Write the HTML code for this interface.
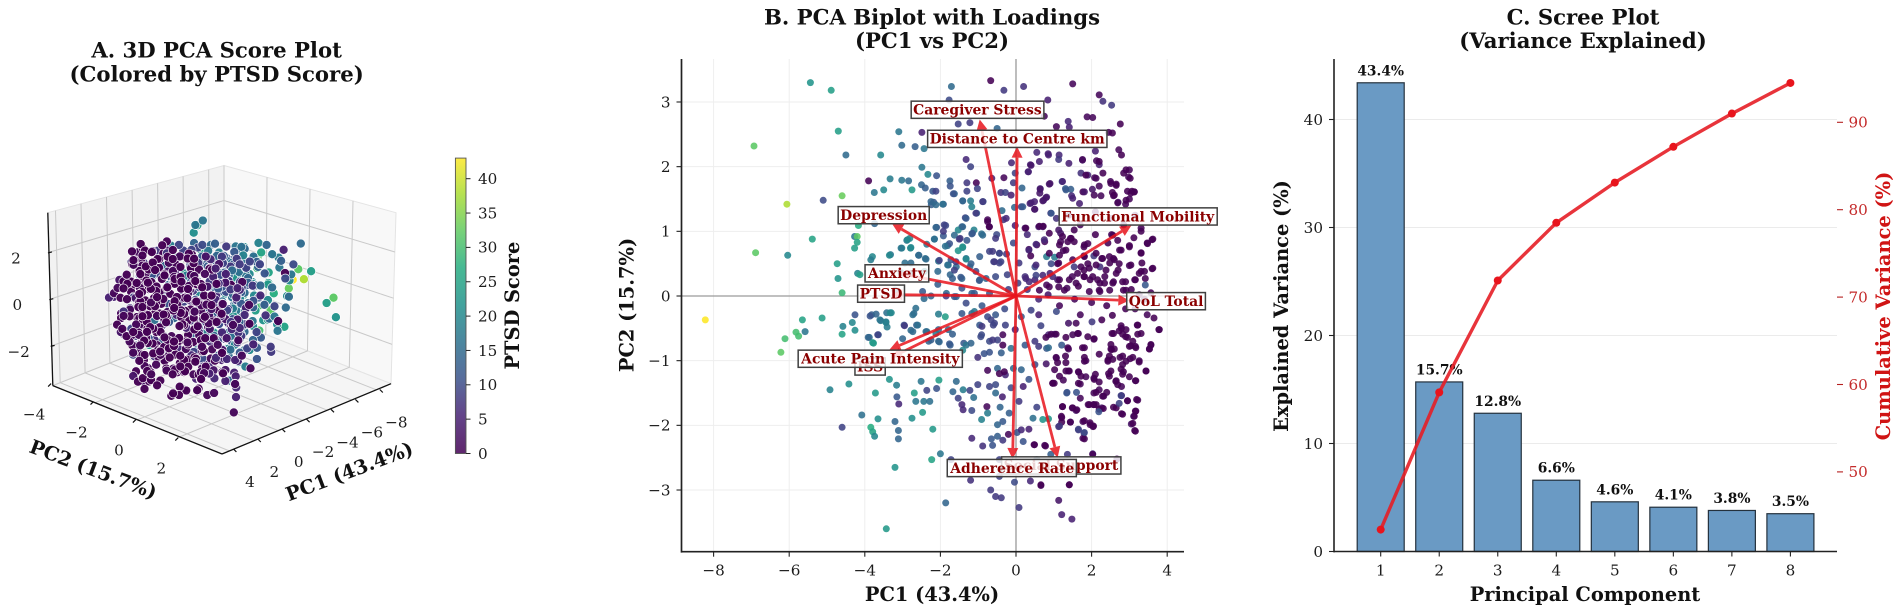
<!DOCTYPE html>
<html lang="en">
<head>
<meta charset="utf-8">
<title>PCA Figure</title>
<style>
html,body{margin:0;padding:0;background:#fff;width:1902px;height:612px;overflow:hidden}
svg{display:block}
text{font-family:"DejaVu Serif","Liberation Serif",serif;fill:#1c1c1c}
.title{font-size:21.2px;font-weight:bold;text-anchor:middle;fill:#111}
.alabel{font-size:19.4px;font-weight:bold;text-anchor:middle;fill:#111}
.tick{font-size:15.2px}
.loading{font-size:13.9px;font-weight:bold;fill:#8b0000;text-anchor:middle}
.val{font-size:13.8px;font-weight:bold;text-anchor:middle;fill:#111}
</style>
</head>
<body>
<svg id="fig" xmlns="http://www.w3.org/2000/svg" width="1902" height="612" viewBox="0 0 1902 612">
  <rect x="0" y="0" width="1902" height="612" fill="#fff"/>
  <defs>
    <linearGradient id="viridisGrad" x1="0" y1="1" x2="0" y2="0"></linearGradient>
  </defs>
  <g id="panelA"></g>
  <g id="panelB"></g>
  <g id="panelC"></g>

  <text class="title" x="216.6" y="57.5">A. 3D PCA Score Plot</text>
  <text class="title" x="216.6" y="81.5">(Colored by PTSD Score)</text>
  <text class="alabel" transform="translate(93,470) rotate(20.7)" y="6">PC2 (15.7%)</text>
  <text class="alabel" transform="translate(349.5,472) rotate(-20.7)" y="6">PC1 (43.4%)</text>
  <text class="alabel" transform="translate(513,305.6) rotate(-90)" y="6">PTSD Score</text>

  <text class="title" x="932" y="24.5">B. PCA Biplot with Loadings</text>
  <text class="title" x="932" y="48">(PC1 vs PC2)</text>
  <text class="alabel" x="932" y="601">PC1 (43.4%)</text>
  <text class="alabel" transform="translate(627.7,305) rotate(-90)" y="6">PC2 (15.7%)</text>

  <text class="title" x="1583" y="24.5">C. Scree Plot</text>
  <text class="title" x="1583" y="48">(Variance Explained)</text>
  <text class="alabel" x="1585" y="601">Principal Component</text>
  <text class="alabel" transform="translate(1282,306) rotate(-90)" y="6">Explained Variance (%)</text>
  <text class="alabel" transform="translate(1884,306) rotate(-90)" y="6" style="fill:#d01414">Cumulative Variance (%)</text>
</svg>

<script>
// ---- Scores ----
const pc1 = [
-5.44,-4.89,-1.71,-.67,-.32,.2,1.5,2.2,2.3,2.53,
.84,-1.77,-6.93,-4.7,-4.5,-3.1,-3.02,-2.67,-2.43,-3.58,
-2.49,-1.53,-1.22,-.5,.75,1.07,1.38,1.41,1.88,2.03,
2.76,2.55,2.45,.55,.85,1.14,1.4,1.76,2.1,2.72,
2.79,1.76,2.13,2.2,.38,-.12,-.02,.33,-1.32,-1.2,
-2.49,-2.33,-2.1,-3.9,-3.33,-3.02,-2.84,-2.5,-2.4,-2.2,
-3.75,-3.5,-2.75,-2.12,-1.75,-1.74,-1.3,-1.05,-1.3,-1.02,
-.64,-.32,-.07,.16,.88,.63,1.22,1.31,1.45,1.77,
1.47,2.02,2.5,2.65,2.55,2.58,2.95,3.07,3.13,3,
2.7,2.9,2.98,2.85,3,2.3,2.08,1.9,1.72,-.4,
-.28,-.13,-5.1,-4.6,-6.06,-4.27,-4.2,-4.2,-4.27,-4.73,
-4.71,-4.19,-4.13,-4.6,-5.39,-6.04,-6.89,-4.17,-3.74,-3.8,
-3.84,-3.32,-2.89,-2.81,-3.02,-2.79,-2.36,-2.16,-2.4,-2.57,
-2.78,-2.94,-3.04,-2.1,-2.18,-2.24,-1.92,-1.63,-1.41,-1.2,
-.87,-1.17,-1.04,-1.34,-1.43,-1.86,-1.92,-1.53,-1.11,-1.48,
-1.41,-1.53,-1.81,-1.17,-.91,-.75,-.7,-.51,-.54,-.33,
-.26,-.02,-.07,.24,.6,.71,.92,1.07,.4,.5,
.14,-.04,-.37,.73,.81,.64,1.18,1.44,1.18,1.13,
1.54,1.8,1.8,2.06,2.43,2.69,2.74,3.12,3.6,3.47,
3.31,3,2.53,3.31,3,3.6,3.31,3.14,3.42,3.42,
3.57,3.26,2.27,2.58,2.48,2.22,1.8,1.54,1.13,.81,
1.02,.34,.55,.76,1.96,2.22,2.58,2.9,2.84,2.48,
2.22,1.8,1.49,.81,1.13,.5,.24,.5,.08,-.44,
-.7,-.59,-.44,-.96,-1.32,-1.22,-1.58,-1.79,-2.05,-1.74,
-1.43,-.96,-.54,-.23,-2.42,-2.78,-3.2,-2.47,-1.84,-1.58,
-1.17,-.7,-8.22,-5.65,-5.13,-4.58,-4.6,-4.33,-4.26,-4.26,
-5.58,-5.82,-5.75,-6.11,-6.22,-3.82,-3.7,-3.58,-3.44,-3.3,
-3.41,-3.64,-3.88,-3.77,-2.96,-2.63,-2.73,-2.7,-2.05,-1.87,
-2.36,-2.05,-1.79,-2.31,-2.05,-1.74,-1.38,-3.35,-3.16,-4.92,
-4.42,-3.72,-3.15,-3.1,-2.69,-2.51,-2.04,-2.36,-2.1,-2.65,
-2.44,-2.28,-2.47,-4.08,-3.65,-3.2,-2.75,-4.6,-3.84,-3.79,
-3.74,-3.11,-3.11,-2.2,-3.2,-2.23,-2,-1.72,-3.43,-1.86,
-1.58,-1.67,-1.4,-1.22,-1.01,-1.53,-1.12,-1.43,-1.4,-1.17,
-.77,-.42,-.75,-.91,-.35,-.49,-.18,-1.17,-.65,-.88,
-.62,-.49,-.35,-.2,.03,-.44,-1.2,-.44,-.04,.38,
.66,1.41,-.67,-.54,-.39,.08,1.13,1.21,1.48,.19,
.14,.34,.48,.76,.55,.92,1.36,2.03,2.67,1.13,
1.44,1.2,1.77,1.65,1.8,1.77,1.96,2.04,3.05,3.14,
3.11,2.79,3.16,2.58,2.95,3.19,2.79,2.32,2.06,1.91,
2.06,2.27,1.7,1.49,1.23,1.59,1.34,.97,1.02,1.39,
1.65,1.7,2.06,2.64,2.79,3.16,3.44,2.84,2.43,2.53,
3.26,3.02,3,3.16,3.53,3.57,3.78,3.65,3.47,3.21,
3.31,2.79,2.9,2.58,2.27,2.01,1.65,2.06,1.39,1.59,
1.7,1.07,.66,.86,1.02,1.39,.81,1.21,1.07,.6,
.24,.5,.5,.14,-.07,-.28,-.49,.34,.19,.08,
.55,.45,.71,.86,-.54,-.36,-.7,-.54,-.13,-1.01,
-.7,-.39,-.13,-.49,-.91,-.7,-.28,-.02,.4,.6,
.14,-.54,-.96,-1.43,-1.17,2.1,1.9,2.35,2.7,3.05,
2.9,2.4,2,1.55,1.15,.85,1.35,2.55,3.15,3.4,
2.2,1.85,1.5,2.75,3,2.45,2.2,1.85,1.25,.8,
2.1,2.5,2.85,1.7,1.4,3.15,2.25,1.1,.6,.3,
-.2,-.3,-.9,-.6,-.25,.05,.3,.9,1.65,1.25,
.26,.62,.88,.72,1.23,1.46,1.54,1.81,1.9,1.15,
1.37,1.32,.88,.53,.34,.39,.75,1.1,.93,.53,
1.15,1.5,1.81,2.12,2.29,2.47,2.6,2.73,2.38,2.65,
3.04,3.31,3.33,3.62,3.4,3.26,3.16,3,2.78,2.56,
3.48,3.62,3.31,2.12,1.94,1.72,1.63,1.81,2.03,2.16,
2.34,2.56,2.82,2.91,2.2,1.94,1.59,1.41,1.15,.97,
.71,.53,.26,.62,.88,1.28,.35,1.32,1.23,1.5,
1.68,1.81,2.07,2.2,2.12,1.85,2.51,2.65,2.6,2.69,
2.91,3.04,3.13,2.91,3.02,2.2,1.13,.86,.62,.4,
.32,.64,.9,.79,.71,.49,.49,.37,.18,.93,
2.78,2.91,2.73,2.82,2.95,3.09,3.04,3.17,3.22,3.57,
3.53,3.79,3.22,2.51,2.51,2.6,2.47,2.56,2.43,2.82,
2.91,2.82,2.78,2.82,3.09,3.26,3.44,3.17,2.51,2.47,
2.65,2.69,2.1,2.07,2.2,1.66,1.72,1.65,1.32,1.41,
1.15,.97,1.01,1.06,1.1,1.31,1.32,1.81,1.76,1.81,
1.81,1.32,1.37,.93,.79,1.06,1.63,1.9,2.07,2.54,
2.12,2.29,2.4,2.12,1.94,2.05,2.2,2.31,2.65,2.95,
3.22,3.17,3.13,3.09,3.16,2.82,1.5,1.61,1.23,1.21,
1.21,1.44,1.81,1.96,2.05,1.81,1.65,1.81,1.15,.49,
.78,2.03,1.41,.66,1.35,1.6,2.78,2.73,2.19,.86,
-2.25,-2.12,-1.94,-1.66,-1.41,-.75,-.71,-1.06,-.88,-1.32,
-1.41,-1.9,-2.12,-1.92,-1.15,-.88,-1.63,-1.5,-1.76,-1.87,
-1.41,-1.3,-2.16,-2.87,-2.78,-3.04,-3.35,-2.58,-2.38,-2.03,
-1.72,-1.59,-1.81,-1.32,-1.19,-1.63,-.62,-.44,-.4,-.57,
-1.06,-2.07,-1.68,-1.46,-.97,-.79,-2.07,-1.43,-1.1,-1.85,
-1.63,-2.43,-2.25,-1.32,-1.1,-2.65,-2.73,-3.42,-3.33,-3.86,
-3.6,-3.44,-2.95,-2.6,-2.78,-2.38,-2.12,-1.68,-3,-3.66,
-3.91,-3.79,-1.76,-2.03,-2.25,-.9,-.75,-.66,-.57,-.93,
-.62,-1.32,-1.41,-1.19,-.84,-.35,-.35,-.44,-.75,-.31
];
const pc2 = [
3.3,3.18,3.24,3.33,3.18,3.24,3.28,3.11,3.01,2.95,
3.03,3.03,2.32,2.55,2.18,2.54,2.33,2.31,2.28,2.18,
2.53,2.66,2.68,2.59,2.78,2.62,2.7,2.61,2.77,2.76,
2.66,2.52,2.53,2.22,2.2,2.18,2.05,2.1,2.24,2.26,
2.18,2.11,2.09,2.03,2.03,2.06,1.9,1.92,2.11,2,
1.99,1.88,1.86,1.78,1.81,1.79,1.78,1.72,1.67,1.62,
1.6,1.64,1.64,1.62,1.78,1.7,1.75,1.75,1.62,1.66,
1.82,1.83,1.75,1.67,1.73,1.59,1.77,1.66,1.65,1.61,
1.55,1.65,1.77,1.73,1.6,1.55,1.62,1.62,1.61,1.5,
1.45,1.42,1.84,1.9,1.95,1.9,1.83,1.87,1.9,1.6,
1.6,1.56,1.48,1.55,1.42,.92,.92,.83,.74,.5,
.27,.35,.33,.05,.88,.63,.67,1.09,1.12,.61,
.56,.64,.86,.89,.74,.74,.8,.88,.58,.63,
.51,.51,.36,1.06,1.45,1.41,1.42,1.58,1.47,1.47,
1.46,1.38,1.28,1.21,1.07,1.09,.93,1.02,1.02,.89,
.75,.7,.78,.96,.96,1.18,1.07,.95,.89,1.18,
1.2,1.09,.82,1.05,1.07,1.07,1.28,1.2,1.44,1.34,
1.38,1.37,1.32,1.48,1.53,1.66,.97,.89,.84,1.02,
.84,.76,.62,.62,.82,.86,.71,.9,.87,.82,
1,.78,.95,.66,.47,.42,.38,.25,.27,.17,
.05,.02,.58,.58,.51,.45,.4,.45,.51,.61,
.6,.72,.79,.84,.25,.2,.22,.22,.09,.09,
.07,.3,.3,.17,.14,.25,.3,.45,.51,.66,
.69,.53,.51,.61,.58,.45,.45,.48,.54,.33,
.27,.25,.3,.33,.38,.35,.09,.07,.04,-.01,
.04,.04,-.37,-.37,-.34,-.47,-.59,-.41,-.53,-.29,
-.55,-.56,-.62,-.66,-.87,-.29,-.28,-.38,-.41,-.26,
-.48,-.6,-.64,-.73,-.45,-.45,-.55,-.27,-.28,-.32,
-.55,-.52,-.52,-.7,-.7,-.76,-.73,-1.29,-1.38,-1.45,
-1.36,-1.5,-1.56,-1.67,-1.5,-1.32,-1.3,-1.46,-1.43,-1.63,
-1.63,-1.63,-1.8,-1.84,-1.9,-1.94,-1.89,-2.03,-2.03,-2.1,
-2.17,-2.08,-2.21,-2.06,-2.65,-2.53,-2.44,-2.53,-3.6,-3.2,
-1.32,-1.48,-1.45,-1.46,-1.37,-1.58,-1.57,-1.68,-1.76,-1.77,
-1.71,-1.72,-1.81,-1.91,-1.94,-1.99,-1.81,-2.2,-2.21,-2.32,
-2.31,-2.17,-2.23,-2.14,-2.11,-2.53,-2.85,-2.79,-2.88,-2.86,
-2.93,-2.92,-3,-3.1,-3.12,-3.27,-3.16,-3.38,-3.45,-2.25,
-2.07,-2.06,-2.3,-2.31,-2.53,-2.45,-2.45,-2.44,-2.52,-2.02,
-1.95,-1.86,-1.94,-2.07,-2.12,-2.2,-1.99,-2.02,-1.98,-2.08,
-1.86,-1.82,-1.78,-1.72,-1.62,-1.6,-1.54,-1.55,-1.5,-1.68,
-1.68,-1.73,-1.58,-1.73,-1.71,-1.77,-1.5,-1.35,-1.14,-1.16,
-1.17,-1.36,-1.27,-1.32,-1.4,-1.31,-1.16,-1.17,-.99,-.83,
-1,-.97,-.78,-.78,-.82,-.76,-.52,-.34,-.29,-.45,
-.58,-.5,-.63,-.58,-.37,-.4,-.58,-.67,-.42,-.42,
-.29,-.24,-.46,-.6,-.59,-.82,-.81,-.76,-.96,-.78,
-.76,-.7,-1.06,-1.14,-1.12,-1.22,-1.12,-1.29,-1.4,-1.63,
-1.72,-1.89,-1.91,-1.9,-1.5,-1.56,-1.4,-1.37,-1.42,-.95,
-.87,-.88,-.81,-.68,-.6,-.7,-.45,-.52,-.22,-.29,
-.32,-.29,-.45,-.27,-.27,.95,.5,.3,.4,.1,
-.2,-.15,-.1,-.05,-.15,.02,.12,-.3,-.2,-.05,
-.9,-1,-.6,-.95,-1.25,-1.2,-1.45,-1.25,-1.3,-1.05,
1.3,1.2,1.1,1.1,1.25,1.25,1.55,.25,-.05,.1,
.1,-.2,-.15,-.45,.65,.2,.95,.35,.15,.7,
1.05,1.08,.97,1.08,.92,.89,1.02,.79,.81,.79,
.84,.71,.66,.8,.71,.62,.87,.5,.5,.48,
.63,.56,.61,.66,.58,.61,.56,.5,.4,.35,
.48,.67,.51,.43,.38,.35,.25,.76,.71,.94,
.81,.88,1.05,.48,.43,.45,.35,.3,.3,.25,
.2,.2,.22,.09,.09,.07,.2,.25,.25,.3,
.32,.32,.27,.09,.14,.09,.22,1.64,1.77,1.51,
1.43,1.61,1.56,1.7,1.82,1.87,1.74,1.71,1.56,1.44,
1.48,1.59,1.61,1.95,1.82,2.08,2.11,2.18,2.08,2.02,
1.92,1.65,1.74,1.52,1.47,1.46,1.34,1.43,1.38,1.28,
-.46,-.52,-.54,-.59,-.64,-.7,-.77,-.8,-.59,-.75,
-.82,-.52,-.45,-.75,-.82,-.82,-.93,-.98,-1.01,-.93,
-1.01,-1.06,-1.13,-1.21,-.95,-1.02,-1.16,-1.31,-1.16,-1.24,
-1.31,-1.37,-1.21,-1.29,-1.33,-1.18,-1.24,-1.35,-1.16,-1.16,
-1.24,-1.35,-1.35,-.95,-1.03,-.93,-1.03,-.8,-.8,-.95,
-1.01,-.64,-.8,-.59,-.64,-.59,-.58,-.63,-.66,-.58,
-1.49,-1.55,-1.49,-1.68,-1.68,-1.68,-1.75,-1.74,-1.73,-1.62,
-1.61,-1.78,-1.86,-1.97,-2.09,-1.83,-1.73,-1.76,-1.71,-1.88,
-1.95,-1.95,-1.93,-1.96,-2.01,-2.21,-2.06,-2.11,-2.01,-2.3,
-2.32,-2.45,-2.92,-2.92,-1.49,-1.49,-1.54,-1.66,-1.79,-.8,
1.46,1.41,1.42,1.58,1.47,1.15,1.07,1.28,1.46,1.2,
1.07,1.1,1.06,1,.97,.94,.94,.88,.81,.77,
.76,.86,.88,.87,.75,.74,.63,.63,.57,.55,
.56,.53,.48,.57,.5,.4,.69,.66,.53,.53,
.38,.38,.27,.29,.24,.27,.18,.12,.04,0,
-.01,-.04,0,-.11,-.24,-.19,-.29,-.26,-.26,-.31,
-.37,-.4,-.46,-.45,-.53,-.55,-.58,-.59,-.66,-.6,
-.64,-.72,-.74,-.71,-.68,-.47,-.32,-.37,-.42,-.63,
-.68,-.76,-.84,-.73,-.89,-.6,-.76,-1.2,-1.15,-1.17
];
const pc3 = [
-.27,.42,1.4,.6,-.5,1,-1,.3,-1.6,1.1,
-.2,2.1,-.12,1.6,2.7,1.8,.3,2.4,-.6,1.3,
3,.8,-1.1,1.9,1.4,-.8,.5,2.2,-1.8,.8,
-.3,1.3,-1.3,1.8,-1.9,.2,2.6,-.6,1,-2.2,
1.6,1.4,-.3,3,-1.4,.5,1.9,-2.6,1.1,-.5,
2.6,.6,1.8,1.4,2.2,-.3,1,2.9,.3,-1.1,
1.6,-.8,1.1,2.1,.8,-1.9,1.4,-.2,2.4,-1.3,
.6,1.8,-.8,1.3,-1.8,.3,1.9,-1.1,.8,2.7,
-2.1,.2,1.4,-.6,2.1,-1.6,.5,1.6,-1,1.1,
-2.4,2.6,-.3,1,-1.4,1.8,.6,-1,2.2,-.5,
1.1,-2.2,1.4,.5,.53,1.8,-.6,1,-1.1,.3,
-1.4,2.1,-.3,1.1,-1.6,-.5,.5,.2,-.8,1.4,
-1.8,.5,1.9,-1,.8,-2.1,1.3,-.2,2.4,-1.3,
.3,1.6,-.6,1,-1.6,2.1,.2,-1.1,1.4,-2.2,
.6,2.6,-.3,1.1,-1.8,1.8,-.8,.5,-1.4,2.2,
0,1.3,-2.4,.8,-1,-4.2,-.5,1,-1.9,1.6,
-.2,1.4,-1.1,2.4,.3,-2.1,1.1,-.6,1.8,-1.6,
.5,-2.6,2.1,-.3,1,-1.4,2.9,.6,-1.1,1.6,
-2.2,.3,2.1,-.8,1.3,-1.8,.8,2.4,-.5,1.4,
-1.4,.2,1.9,-2.7,1,-.3,1.8,-1.9,.6,-1,
1.3,-2.4,.5,2.6,-1.3,1.1,-3,0,1.6,-.6,
.8,-1.8,2.2,-.3,1.4,-2.1,3.2,-1,.3,-3.2,
1.9,-.2,1.1,-2.6,2.7,-.8,.6,-1.9,1.4,-.5,
2.1,-1.4,.3,1.6,-1.1,.8,-2.2,1.8,-.3,1,
-1.3,2.2,0,-2.4,1.1,-.8,1.9,-1.9,.5,-1,
2.6,-.2,-.64,1.1,-1.3,.5,-.6,1.6,-1.9,.8,
-1,-2.4,.3,-1.4,.6,1.3,-.5,1.8,-1.6,.3,
-1,1.1,-2.1,0,1.4,-1.1,.6,-2.4,1.9,-.3,
1,-1.8,2.2,.2,-1.3,1.3,-2.2,.5,-1.4,.2,
-.8,-2.4,.8,-1.1,1.4,2.8,2.7,1.6,-.6,-2.9,
2.5,-1.4,-.2,-1.3,.6,-2.1,2,-.3,-1.6,.5,
-1,1.4,-2.6,.3,-.6,-1.8,.8,-1.1,-1.4,-3,
1.1,-1.9,.6,-.5,1.8,-2.7,.2,1.4,-1,.8,
-2.2,.3,1.9,-.8,-3,1,-1.3,-.3,1.3,-1.8,
.5,-2.4,1.6,-.6,1.1,-1.4,-3.4,.2,-1.9,1,
-1,-1,.5,-1.6,-.2,-1.2,.3,-.5,-.5,.8,
-2.1,1.8,-.5,-3,.6,-1.1,1.4,-.6,.3,-1.6,
1.1,-.6,2.1,-1.6,.6,-1.6,.2,1.6,-1.1,.8,
-1.1,1,-.3,2.4,-1.4,.5,-2.9,1,-.8,1.9,
-2.1,.3,1.3,-1.4,.6,-3.5,1.1,-.5,2.2,-1.9,
.2,1.6,-2.6,1,-.6,2.1,-1.6,.5,-3,1.4,
-.8,2.6,-.2,-2.1,1.1,-1.1,.3,1.8,-2.2,.8,
-.5,2.1,-2.7,.6,-1.3,2.7,0,-1.8,1.3,-1,
1.9,-2.4,.5,-.3,1.6,-1.9,1,-.6,2.4,-2.9,
.2,-1.4,1.3,-.8,1.8,-2.2,.6,-.2,1.9,-1.8,
1,-1.1,.3,-2.1,1.4,-.6,2.1,-2.6,.8,-.3,
1.4,-1.8,.5,2.2,-1.1,1,-2.1,.2,1.8,-.8,
1.1,-1.6,1.9,-.5,.6,3,-1.6,.8,-1.9,2.2,
-1.3,1.4,-2.2,2.6,-.3,1,-1.4,3.2,.3,-2.6,
.6,-2.4,2.1,-1,1.3,-3.4,1.8,.8,-1.8,1.4,
1.1,-1.1,1.9,-1.8,.5,-.3,2.6,1.4,-1.9,2.1,
-1.4,.8,1.6,-2.6,.3,-.6,1,-2.7,1.3,-.6,
.4,-1.7,2.3,-.7,1.2,-2.4,.9,-.2,2.7,-1.3,
1.7,-2.9,.2,-1,2.5,.7,-1.9,1.5,-.4,-2.2,
2.2,-.9,.6,2.9,-1.5,.1,-2.6,1.3,-.6,2,
-2,.9,-1.2,2.4,.3,-.5,1.7,-2.8,.7,-1.6,
1.1,-.3,2.3,-2.1,.5,-1,1.4,-3,.2,1.9,
-1.4,2.8,-.7,.4,1.6,-2.3,.9,-.1,2.1,-1.8,
.6,-2.5,1.2,-.4,2.6,-1.1,.3,1.8,-.8,2.3,
-1.9,1,-2.7,.5,-.6,2.2,-1.3,.8,-.2,-2.4,
1.5,-.9,2.5,.1,-1.7,.7,1.9,-1.2,-2.9,.4,
1.3,-.5,2,-2,.9,-1.5,.2,-2.5,1.6,-.7,
1.2,-1.5,.5,2.4,-.4,-2.3,1.6,-1,.2,2,
-1.8,.7,1.4,-.6,2.7,-2.5,.3,-1.3,1,2.1,
-.2,-2.8,.9,1.8,-1.2,.4,-.7,2.3,-1.9,1.1,
.1,-3.1,1.7,-.9,2.5,-.3,-1.6,.8,2,-2.2,
.5,-1.1,1.5,2.8,-2.4,-.5,1.2,-1.7,.3,2.2,
-1,.7,-2.6,1.9,-.1,-1.4,2.4,.6,-.8,1.3,
-2.1,.2,1.6,-1.2,2.6,-.6,-2.9,.9,1.1,-.3,
-1.1,.9,-.9,.4,-.8,1.4,-.2,2.3,-1.3,.6,
-2.7,1,-.7,1.8,-1.9,.3,-1.1,-2.4,1.5,-.4,
-2,.7,-1.2,.2,1.2,-1.5,.5,-.9,-1.8,1.7,
1.9,1.1,2.4,.6,1.6,-.4,1.3,2.2,-.8,.9,
-1.2,1.8,.2,-.7,2.6,-1.6,1,.4,-1.1,1.5,
-.3,2,-1.9,.8,1.2,-.9,.1,2.3,-1.4,.6,
-.6,1.7,.3,-1.8,1,-.2,2.4,-1.2,.7,-2.1,
1.4,-.8,.5,2.1,-1.5,.2,1.1,-.5,1.9,-1.7,
.4,-1,1.6,-.3,2.2,-1.3,.8,-.6,1.2,-1.5,
.3,-1.2,1.9,-.4,-1.8,.9,-.7,1.5,-1.1,.5,
-.9,.2,1.3,-1.9,.6,-.2,2.5,-1.6,.9,-2.3,
.4,-1.1,1.4,-.5,-2.4,.7,-1.5,-2.9,.1,-1.9
];
const ptsd = [
22,24,15,0,8,7,1,1,7,8,
5,10,32,24,15,17,15,13,17,20,
5,9,8,14,1,1,6,5,1,1,
0,0,0,6,5,6,5,3,5,1,
0,1,1,5,5,6,9,6,6,9,
17,20,11,0,18,17,15,14,13,12,
17,20,23,9,13,11,8,0,9,9,
5,1,8,14,3,3,12,13,13,0,
6,3,1,0,0,1,0,0,0,1,
5,1,1,0,1,0,1,6,7,7,
9,5,10,33,38,17,32,25,24,24,
22,19,24,29,25,20,32,27,14,20,
18,17,17,20,20,20,17,15,16,14,
15,16,17,11,12,13,13,14,13,18,
12,19,13,9,12,10,12,20,19,8,
18,22,16,12,16,1,1,10,8,8,
6,5,10,3,5,3,6,7,5,5,
9,14,15,6,5,6,3,1,1,3,
0,0,1,8,0,0,1,0,0,0,
0,0,1,0,1,0,0,1,0,12,
0,0,0,0,0,7,0,8,1,18,
18,1,1,1,0,0,0,0,0,0,
1,0,1,1,0,5,7,10,8,10,
9,9,9,13,16,15,15,16,17,14,
14,14,10,9,19,18,16,12,15,14,
13,12,43,25,24,19,25,20,21,11,
17,30,30,30,32,13,14,17,21,20,
18,13,15,24,11,13,15,15,18,24,
16,14,15,14,14,13,12,22,18,19,
21,23,12,6,24,17,24,9,11,17,
17,16,23,16,21,14,21,9,27,25,
20,14,14,23,22,25,17,9,23,14,
15,14,18,9,9,9,16,6,6,10,
1,14,18,19,12,14,13,6,12,7,
11,13,8,1,11,9,7,9,10,6,
1,1,8,8,8,8,3,5,5,11,
6,5,1,1,14,13,8,7,1,7,
5,0,1,8,8,1,1,0,3,1,
5,0,1,0,1,0,3,1,1,1,
1,3,1,1,1,3,12,0,0,1,
1,1,1,1,1,1,1,0,0,0,
1,0,0,1,0,1,0,0,1,1,
0,0,0,0,0,8,1,1,3,1,
1,10,9,5,5,1,12,12,3,8,
12,8,10,14,15,6,14,11,5,8,
9,16,22,22,15,5,9,10,10,7,
11,13,16,9,10,10,9,5,9,5,
12,12,12,12,14,0,0,0,0,0,
0,0,1,1,1,3,1,0,1,0,
0,1,1,0,0,0,1,1,1,3,
1,0,0,1,3,1,1,3,6,8,
9,10,12,9,8,9,6,5,0,1,
0,0,0,0,0,0,0,0,0,0,
0,0,0,6,6,0,6,0,10,6,
0,0,0,0,0,0,0,0,0,0,
0,0,0,0,0,0,0,0,0,0,
0,0,0,0,0,0,0,0,0,0,
0,0,0,0,0,0,0,0,0,6,
6,9,6,0,0,0,6,12,5,5,
5,3,1,1,1,0,0,0,0,0,
0,0,0,0,0,0,8,5,5,3,
5,3,3,3,3,5,3,5,12,12,
0,0,0,0,0,0,0,0,0,0,
0,0,0,0,0,0,0,0,0,0,
0,0,0,0,0,0,0,0,0,0,
0,0,0,0,0,0,0,0,0,0,
0,0,0,0,0,0,0,0,0,0,
0,0,0,0,0,0,0,0,0,0,
0,0,0,0,0,0,0,0,0,0,
0,0,0,0,0,0,0,0,0,0,
0,0,0,0,0,0,9,10,8,0,
0,0,0,0,11,11,9,9,11,15,
14,15,16,11,14,0,0,8,8,12,
14,9,14,8,12,15,15,8,11,16,
22,12,16,20,20,17,20,15,15,9,
11,8,16,20,13,9,8,9,9,8,
10,15,13,12,12,14,13,11,12,8,
12,15,14,10,17,16,16,16,20,11,
17,18,8,16,15,15,17,13,14,9,
14,23,12,14,13,8,10,9,9,10,
8,17,20,14,11,1,0,0,1,0
];

// ---- Loadings (biplot arrows, data units) ----
const loadingNames = ["Caregiver Stress","Distance to Centre km","Depression","Functional Mobility","Anxiety","PTSD","QoL Total","ISS","Acute Pain Intensity","Social Support","Adherence Rate"];
const loadingPc1 = [-0.96,0.03,-3.28,3.05,-3.1,-3.3,3.0,-3.3,-3.35,1.1,-0.09];
const loadingPc2 = [2.73,2.31,1.12,1.09,0.35,0.02,-0.07,-0.95,-0.83,-2.5,-2.52];
const loadingLabelPc1 = [-1.02,0.03,-3.5,3.22,-3.15,-3.57,3.97,-3.86,-3.59,1.19,-0.1];
const loadingLabelPc2 = [2.88,2.43,1.25,1.23,0.35,0.036,-0.08,-1.09,-0.97,-2.62,-2.66];

// ---- Scree ----
const components = [1,2,3,4,5,6,7,8];
const explained = [43.4,15.7,12.8,6.6,4.6,4.1,3.8,3.5];
const cumulative = [43.4,59.1,71.9,78.5,83.1,87.2,91.0,94.5];
const explainedLabels = ["43.4%","15.7%","12.8%","6.6%","4.6%","4.1%","3.8%","3.5%"];

// ---- Ticks ----
const biplotXTicks = [-8,-6,-4,-2,0,2,4];
const biplotYTicks = [-3,-2,-1,0,1,2,3];
const screeLeftTicks = [0,10,20,30,40];
const screeRightTicks = [50,60,70,80,90];
const colorbarTicks = [0,5,10,15,20,25,30,35,40];
const pc1Ticks3d = [4,2,0,-2,-4,-6,-8];
const pc2Ticks3d = [-4,-2,0,2];
const pc3Ticks3d = [-2,0,2];

const NS = "http://www.w3.org/2000/svg";
const fmt = v => String(v).replace("-", "\u2212");
function mk(parent, tag, attrs, txt){
  const e = document.createElementNS(NS, tag);
  for (const k in attrs) e.setAttribute(k, attrs[k]);
  if (txt !== undefined) e.textContent = txt;
  parent.appendChild(e);
  return e;
}
const VIR = [[0,68,1,84],[.13,72,36,117],[.25,59,82,139],[.38,44,114,142],[.5,33,145,140],[.63,39,173,129],[.75,94,201,98],[.88,170,220,50],[1,253,231,37]];
function viridis(t){
  t = Math.max(0, Math.min(1, t));
  for (let i = 1; i < VIR.length; i++) {
    if (t <= VIR[i][0]) {
      const a = VIR[i-1], b = VIR[i], f = (t-a[0])/(b[0]-a[0]);
      return "rgb(" + [1,2,3].map(j => Math.round(a[j]+(b[j]-a[j])*f)).join(",") + ")";
    }
  }
  return "rgb(253,231,37)";
}
const PTSD_MAX = 43;
const lerp = (a,b,t) => [a[0]+(b[0]-a[0])*t, a[1]+(b[1]-a[1])*t];

// ===== Panel A =====
(function(){
  const g = document.getElementById("panelA");
  const TL=[47.8,212.7], BT=[224,165.5], TR=[396,212.7], BL=[52.8,385.6], BB=[224,318], BR=[391,383.7], F=[222,454];
  const poly = pts => pts.map(p => p[0].toFixed(1)+","+p[1].toFixed(1)).join(" ");
  let e;
  e = mk(g,"polygon",{points:poly([TL,BT,BB,BL]),fill:"#f2f2f2",stroke:"#e4e4e4","stroke-width":1});
  
  
  e = mk(g,"polygon",{points:poly([BT,TR,BR,BB]),fill:"#f8f8f8",stroke:"#e4e4e4","stroke-width":1});
  
  
  e = mk(g,"polygon",{points:poly([BL,BB,BR,F]),fill:"#f5f5f5",stroke:"#e4e4e4","stroke-width":1});
  
  

  const gridStyle = {stroke:"#c9c9c9","stroke-width":1,fill:"none"};
  const pc1T = v => (4.6 - v)/13.8;
  const pc2T = v => (v + 4)/8;
  const pc3S = v => (v + 3.7)/7.4;
  pc1Ticks3d.forEach(v => {
    const t = pc1T(v);
    const p = [lerp(TL,BT,t), lerp(BL,BB,t), lerp(F,BR,t)];
    const l = mk(g,"polyline",Object.assign({points:poly(p)},gridStyle));
    
    
    const tk = [233.4+(4-v)*12.2, 448.9-(4-v)*4.95];
    const m = mk(g,"line",{x1:tk[0],y1:tk[1],x2:tk[0]+3,y2:tk[1]+3,stroke:"#111","stroke-width":1.2});
    
    
    const lb = mk(g,"text",{class:"tick",x:tk[0]+16.5,y:tk[1]+38,"text-anchor":"middle"},fmt(v));
    
    
  });
  pc2Ticks3d.forEach(v => {
    const t = pc2T(v);
    const p = [lerp(TR,BT,1-t), lerp(BR,BB,1-t), lerp(F,BL,1-t)];
    const l = mk(g,"polyline",Object.assign({points:poly(p)},gridStyle));
    
    
    const tk = [135.9+v*21.2, 419.6+v*9];
    const m = mk(g,"line",{x1:tk[0],y1:tk[1],x2:tk[0]-3,y2:tk[1]+3,stroke:"#111","stroke-width":1.2});
    
    
    const lb = mk(g,"text",{class:"tick",x:tk[0]-17,y:tk[1]+36,"text-anchor":"middle"},fmt(v));
    
    
  });
  pc3Ticks3d.forEach(v => {
    const s = pc3S(v);
    const a = lerp(BL,TL,s), b = lerp(BB,BT,s), c = lerp(BR,TR,s);
    const l = mk(g,"polyline",Object.assign({points:poly([a,b,c])},gridStyle));
    
    
    const m = mk(g,"line",{x1:a[0]-1,y1:a[1]+.5,x2:a[0]+3,y2:a[1]-.5,stroke:"#111","stroke-width":1.2});
    
    
    const lb = mk(g,"text",{class:"tick",x:a[0]-33,y:a[1]+11,"text-anchor":"middle"},fmt(v));
    
    
  });
  [[TL,BL,'pc3-axis-line'],[BL,F,'pc2-axis-line'],[F,BR,'pc1-axis-line']].forEach(s => {
    const l = mk(g,"line",{x1:s[0][0],y1:s[0][1],x2:s[1][0],y2:s[1][1],stroke:"#111","stroke-width":1.3});
    
    
  });

  // affine view of the 3D axes
  const sx3 = (a,b) => 199.8 - 12.25*a + 21.05*b;
  const sy3 = (a,b,c) => 394.2 + 4.96*a + 8.78*b - 23.03*(c+3.7);
  const depth = i => pc1[i] + .5*pc2[i] - .12*ptsd[i];
  const order = pc1.map((_,i) => i).sort((i,j) => depth(i) - depth(j));
  order.forEach(i => {
    const d = mk(g,"circle",{cx:sx3(pc1[i],pc2[i]).toFixed(1),cy:sy3(pc1[i],pc2[i],pc3[i]).toFixed(1),r:4.5,fill:viridis(ptsd[i]/PTSD_MAX),stroke:"#fff","stroke-width":.65,"fill-opacity":.97});
    
    
  });

  // colorbar
  const grad = document.getElementById("viridisGrad");
  VIR.forEach(s => mk(grad,"stop",{offset:s[0],"stop-color":"rgb("+s[1]+","+s[2]+","+s[3]+")"}));
  const cbY = v => 453.5 - 6.87*v;
  const bar = mk(g,"rect",{x:455.4,y:cbY(PTSD_MAX),width:10.6,height:6.87*PTSD_MAX,fill:"url(#viridisGrad)","fill-opacity":.85,stroke:"#555","stroke-width":.9});
  
  
  colorbarTicks.forEach(v => {
    const m = mk(g,"line",{x1:466,y1:cbY(v),x2:470.5,y2:cbY(v),stroke:"#222","stroke-width":1});
    
    
    const t = mk(g,"text",{class:"tick",x:478,y:cbY(v)+5.3},String(v));
    
    
  });
})();

// ===== Panel B =====
(function(){
  const g = document.getElementById("panelB");
  const L=681.5,R=1184,T=59,B=551.7;
  const x = v => 1016 + 37.8*v;
  const y = v => 296 - 64.67*v;
  biplotXTicks.forEach(v => {
    const l = mk(g,"line",{x1:x(v),y1:T,x2:x(v),y2:B,stroke:"#eeeeee","stroke-width":1});
    
    
  });
  biplotYTicks.forEach(v => {
    const l = mk(g,"line",{x1:L,y1:y(v),x2:R,y2:y(v),stroke:"#eeeeee","stroke-width":1});
    
    
  });
  let z = mk(g,"line",{x1:x(0),y1:T,x2:x(0),y2:B,stroke:"#9a9a9a","stroke-width":1.3});
  
  
  z = mk(g,"line",{x1:L,y1:y(0),x2:R,y2:y(0),stroke:"#9a9a9a","stroke-width":1.3});
  
  

  pc1.forEach((v,i) => {
    const d = mk(g,"circle",{cx:x(v).toFixed(1),cy:y(pc2[i]).toFixed(1),r:3.5,fill:viridis(ptsd[i]/PTSD_MAX),"fill-opacity":.88});
    
    
  });

  // arrows
  loadingNames.forEach((n,i) => {
    const tx = x(loadingPc1[i]), ty = y(loadingPc2[i]), ox = x(0), oy = y(0);
    const len = Math.hypot(tx-ox,ty-oy), ux=(tx-ox)/len, uy=(ty-oy)/len;
    const hl = 11, hw = 5.5, bx = tx-ux*hl, by = ty-uy*hl;
    const a = mk(g,"line",{x1:ox,y1:oy,x2:bx,y2:by,stroke:"#e8141c","stroke-width":2.8,"stroke-opacity":.85});
    
    
    const h = mk(g,"polygon",{points:[tx,ty,bx-uy*hw,by+ux*hw,bx+uy*hw,by-ux*hw].map(q=>q.toFixed(1)).join(","),fill:"#e8141c","fill-opacity":.85});
    
    
  });
  // labels
  loadingNames.forEach((n,i) => {
    const cx = x(loadingLabelPc1[i]), cy = y(loadingLabelPc2[i]);
    const box = mk(g,"rect",{fill:"#fff","fill-opacity":.82,stroke:"#404040","stroke-width":1.5});
    
    
    const t = mk(g,"text",{class:"loading",x:cx,y:cy+4.8},n);
    
    
    const b = t.getBBox();
    box.setAttribute("x",b.x-2);
    box.setAttribute("y",cy-8.6);
    box.setAttribute("width",b.width+4);
    box.setAttribute("height",17.2);
  });

  let s = mk(g,"line",{x1:L,y1:T,x2:L,y2:B+.9,stroke:"#222","stroke-width":1.7});
  
  
  s = mk(g,"line",{x1:L,y1:B,x2:R,y2:B,stroke:"#222","stroke-width":1.7});
  
  

  biplotXTicks.forEach(v => {
    const m = mk(g,"line",{x1:x(v),y1:B,x2:x(v),y2:B+5,stroke:"#222","stroke-width":1.1});
    
    
    const t = mk(g,"text",{class:"tick",x:x(v),y:B+24,"text-anchor":"middle"},fmt(v));
    
    
  });
  biplotYTicks.forEach(v => {
    const m = mk(g,"line",{x1:L-5,y1:y(v),x2:L,y2:y(v),stroke:"#222","stroke-width":1.1});
    
    
    const t = mk(g,"text",{class:"tick",x:L-11,y:y(v)+5.3,"text-anchor":"end"},fmt(v));
    
    
  });
})();

// ===== Panel C =====
(function(){
  const g = document.getElementById("panelC");
  const L=1334,R=1837,T=59,B=551.5;
  const x = i => 1380.7 + 58.53*(i-1);
  const yL = v => 551.5 - 10.8*v;
  const yR = v => 471.9 - 8.74*(v-50);
  const barW = 47;
  screeLeftTicks.forEach(v => {
    if (v === 0) return;
    const l = mk(g,"line",{x1:L,y1:yL(v),x2:R,y2:yL(v),stroke:"#ebebeb","stroke-width":1});
    
    
  });
  components.forEach((c,i) => {
    const r = mk(g,"rect",{x:x(c)-barW/2,y:yL(explained[i]),width:barW,height:yL(0)-yL(explained[i]),fill:"#6a9ac4",stroke:"#24313d","stroke-width":1.2});
    
    
    const t = mk(g,"text",{class:"val",x:x(c),y:yL(explained[i])-7.5},explainedLabels[i]);
    
    
    const m = mk(g,"line",{x1:x(c),y1:B,x2:x(c),y2:B+5,stroke:"#222","stroke-width":1.1});
    
    
    const tl = mk(g,"text",{class:"tick",x:x(c),y:B+24,"text-anchor":"middle"},String(c));
    
    
  });
  const pl = mk(g,"polyline",{points:components.map((c,i) => x(c).toFixed(1)+","+yR(cumulative[i]).toFixed(1)).join(" "),fill:"none",stroke:"#e61e26","stroke-width":3.4,"stroke-opacity":.9,"stroke-linejoin":"round"});
  
  
  components.forEach((c,i) => {
    const d = mk(g,"circle",{cx:x(c),cy:yR(cumulative[i]),r:4,fill:"#e8141c"});
    
    
  });
  let s = mk(g,"line",{x1:L,y1:T,x2:L,y2:B+.9,stroke:"#222","stroke-width":1.6});
  
  
  s = mk(g,"line",{x1:L,y1:B,x2:R,y2:B,stroke:"#222","stroke-width":1.6});
  
  
  screeLeftTicks.forEach(v => {
    const m = mk(g,"line",{x1:L-5,y1:yL(v),x2:L,y2:yL(v),stroke:"#222","stroke-width":1.1});
    
    
    const t = mk(g,"text",{class:"tick",x:L-11,y:yL(v)+5.3,"text-anchor":"end"},String(v));
    
    
  });
  screeRightTicks.forEach(v => {
    const m = mk(g,"line",{x1:R,y1:yR(v),x2:R+6,y2:yR(v),stroke:"#b52020","stroke-width":1.1});
    
    
    const t = mk(g,"text",{class:"tick",x:R+11.5,y:yR(v)+5.3,style:"fill:#c42b2b"},String(v));
    
    
  });
})();
</script>
</body>
</html>
